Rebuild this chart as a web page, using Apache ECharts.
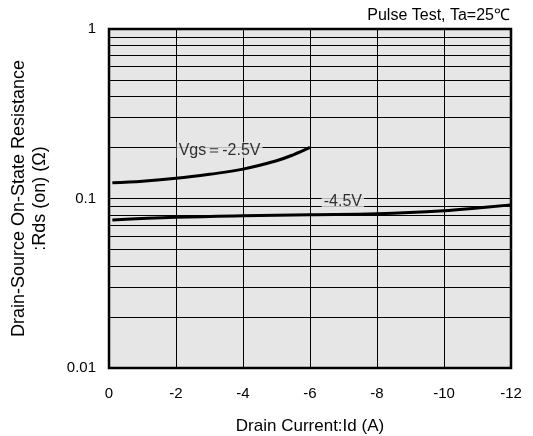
<!DOCTYPE html>
<html>
<head>
<meta charset="utf-8">
<script src="https://cdn.jsdelivr.net/npm/echarts@6/dist/echarts.min.js"></script>
<style>html,body{margin:0;padding:0;background:#fff;}#c{width:533px;height:436px;}</style>
</head>
<body>
<div id="c"></div>
<script>
var xTicks = [0, -2, -4, -6, -8, -10, -12];
var yTicks = [0.01, 0.1, 1];
var minorLines = [0.02, 0.03, 0.04, 0.05, 0.06, 0.07, 0.08, 0.09, 0.2, 0.3, 0.4, 0.5, 0.6, 0.7, 0.8, 0.9];

var vgs25Id  = [-0.1, -1, -2, -3, -4, -5, -5.5, -6];
var vgs25Rds = [0.124, 0.1266, 0.1315, 0.139, 0.149, 0.167, 0.181, 0.200];

var vgs45Id  = [-0.1, -2, -4, -6, -8, -10, -11, -12];
var vgs45Rds = [0.0747, 0.0774, 0.0791, 0.0802, 0.0812, 0.0846, 0.088, 0.0917];

var curveLabels = [
  {text: 'Vgs\uFF1D-2.5V', id: -3.3, rds: 0.193},
  {text: '-4.5V', id: -6.98, rds: 0.0954}
];

function pairs(xs, ys) { return xs.map(function (x, i) { return [x, ys[i]]; }); }

var font = '"Liberation Sans", Arial, Helvetica, sans-serif';
var chart = echarts.init(document.getElementById('c'));
chart.setOption({
  animation: false,
  textStyle: {fontFamily: font},
  title: {
    text: 'Pulse Test, Ta=25\u2103',
    right: 18, top: 3,
    textStyle: {fontSize: 16, fontWeight: 'normal', color: '#000', fontFamily: font}
  },
  grid: {
    left: 109, right: 22, top: 29, bottom: 68,
    outerBoundsMode: 'none', containLabel: false,
    show: true, backgroundColor: '#e6e6e6', borderColor: '#000', borderWidth: 2.5
  },
  xAxis: {
    type: 'value', inverse: true, min: -12, max: 0, interval: 2,
    name: 'Drain Current:Id (A)', nameLocation: 'middle', nameGap: 50,
    nameTextStyle: {fontSize: 17, color: '#000', fontFamily: font},
    axisLine: {show: false}, axisTick: {show: false},
    axisLabel: {fontSize: 15, color: '#000', margin: 18, fontFamily: font,
      formatter: function (v) { return xTicks.indexOf(v) >= 0 ? String(v) : ''; }},
    splitLine: {show: true, lineStyle: {color: '#000', width: 1}}
  },
  yAxis: {
    type: 'log', logBase: 10, min: 0.01, max: 1,
    name: 'Drain-Source On-State Resistance\n:Rds (on) (\u03A9)', nameLocation: 'middle', nameGap: 58,
    nameTextStyle: {fontSize: 18, color: '#000', lineHeight: 21, fontFamily: font},
    axisLine: {show: false}, axisTick: {show: false},
    axisLabel: {fontSize: 15, color: '#000', margin: 13, fontFamily: font,
      formatter: function (v) { return yTicks.indexOf(v) >= 0 ? String(v) : ''; }},
    splitLine: {show: true, lineStyle: {color: '#000', width: 1}}
  },
  series: [
    {
      type: 'line', z: 1, data: [], silent: true,
      markLine: {
        silent: true, symbol: 'none', animation: false,
        label: {show: false},
        lineStyle: {color: '#000', width: 1, type: 'solid'},
        data: minorLines.map(function (v) { return {yAxis: v}; })
      }
    },
    {
      type: 'line', z: 3, showSymbol: false, smooth: 0.4,
      lineStyle: {color: '#000', width: 3},
      data: pairs(vgs25Id, vgs25Rds)
    },
    {
      type: 'line', z: 3, showSymbol: false, smooth: 0.4,
      lineStyle: {color: '#000', width: 3},
      data: pairs(vgs45Id, vgs45Rds)
    },
    {
      type: 'scatter', z: 5, symbolSize: 0, silent: true,
      data: curveLabels.map(function (l) { return {value: [l.id, l.rds], name: l.text}; }),
      label: {
        show: true, position: 'inside', formatter: '{b}',
        fontSize: 16, color: '#000', fontFamily: font,
        backgroundColor: '#e6e6e6', padding: [0, 2]
      }
    }
  ]
});
</script>
</body>
</html>
